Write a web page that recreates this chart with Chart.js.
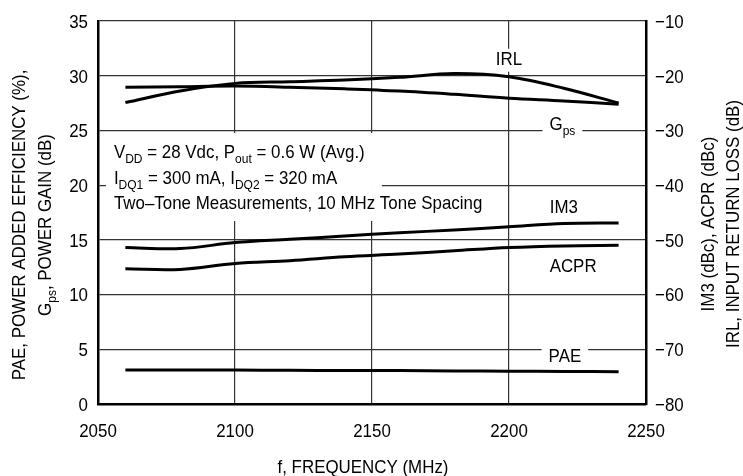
<!DOCTYPE html>
<html>
<head>
<meta charset="utf-8">
<script src="https://cdn.jsdelivr.net/npm/chart.js@4.4.1/dist/chart.umd.min.js"></script>
<style>
  body { margin: 0; background: #fff; }
  #wrap { width: 743px; height: 476px; }
</style>
</head>
<body>
<div id="wrap"><canvas id="c" width="743" height="476"></canvas></div>
<script>
// data (MHz / dB / %)
const freqs = [2060, 2080, 2100, 2120, 2140, 2160, 2180, 2200, 2220, 2240];
const gps   = [28.95, 29.0, 29.05, 28.95, 28.8, 28.6, 28.3, 27.95, 27.7, 27.4];
const pae   = [3.1, 3.1, 3.1, 3.08, 3.05, 3.05, 3.02, 3.0, 2.98, 2.95];
const irl   = [-24.9, -22.8, -21.4, -21.1, -20.8, -20.3, -19.6, -20.2, -22.3, -25.0];
const im3   = [-51.4, -51.6, -50.5, -49.9, -49.3, -48.7, -48.2, -47.6, -47.0, -46.9];
const acpr  = [-55.3, -55.4, -54.3, -53.8, -53.1, -52.6, -52.0, -51.4, -51.1, -51.0];

const xTicks = [2050, 2100, 2150, 2200, 2250];
const leftTicks = [0, 5, 10, 15, 20, 25, 30, 35];
const rightTicks = [-80, -70, -60, -50, -40, -30, -20, -10];

// narrow helvetica look: regular sans squeezed sideways
const FONT = '"Liberation Sans", Arial, sans-serif';
const FS = 19;
const SUB = 13.5;
const SX = 0.89;

function pts(ys) {
    return freqs.map((f, i) => ({ x: f, y: ys[i] }));
}

function rawWidth(ctx, parts) {
    let w = 0;
    parts.forEach(p => {
        ctx.font = (p[1] ? SUB : FS) + 'px ' + FONT;
        w += ctx.measureText(p[0]).width;
    });
    return w;
}

function richWidth(ctx, parts) {
    return rawWidth(ctx, parts) * SX;
}

// parts: [text, isSubscript]
function drawRich(ctx, parts, x, y, align) {
    let w = rawWidth(ctx, parts);
    let cx = 0;
    if (align == 'center') cx = -w / 2;
    if (align == 'right') cx = -w;
    ctx.save();
    ctx.translate(x, y);
    ctx.scale(SX, 1);
    ctx.textAlign = 'left';
    ctx.textBaseline = 'alphabetic';
    ctx.fillStyle = '#000';
    parts.forEach(p => {
        ctx.font = (p[1] ? SUB : FS) + 'px ' + FONT;
        ctx.fillText(p[0], cx, p[1] ? 5 : 0);
        cx += ctx.measureText(p[0]).width;
    });
    ctx.restore();
    return w * SX;
}

const noteLines = [
    [['V', 0], ['DD', 1], [' = 28 Vdc, P', 0], ['out', 1], [' = 0.6 W (Avg.)', 0]],
    [['I', 0], ['DQ1', 1], [' = 300 mA, I', 0], ['DQ2', 1], [' = 320 mA', 0]],
    [['Two\u2013Tone Measurements, 10 MHz Tone Spacing', 0]]
];

// curve labels: [parts, freq, left-axis value of baseline, white box?]
const curveLabels = [
    [[['IRL', 0]], 2200, 31, true],
    [[['G', 0], ['ps', 1]], 2219.5, 25, true],
    [[['IM3', 0]], 2220, 17.45, false],
    [[['ACPR', 0]], 2223.4, 12.08, false],
    [[['PAE', 0]], 2220.4, 3.86, true]
];

function minusText(v) {
    return String(v).replace('-', '\u2212');
}

const notesPlugin = {
    id: 'notes',
    afterDatasetsDraw(chart) {
        const ctx = chart.ctx;
        const xs = chart.scales.x, ys = chart.scales.y;
        ctx.save();
        // white box behind condition text
        ctx.fillStyle = '#fff';
        let x0 = xs.getPixelForValue(2052.9);
        ctx.fillRect(x0, ys.getPixelForValue(24.76), xs.getPixelForValue(2153.6) - x0, ys.getPixelForValue(19.55) - ys.getPixelForValue(24.76));
        ctx.fillRect(x0, ys.getPixelForValue(19.55), xs.getPixelForValue(2195.6) - x0, ys.getPixelForValue(16.72) - ys.getPixelForValue(19.55));
        const tx = xs.getPixelForValue(2055.8);
        [22.48, 20.1, 17.8].forEach((v, i) => {
            drawRich(ctx, noteLines[i], tx, ys.getPixelForValue(v), 'left');
        });

        curveLabels.forEach(l => {
            const cx = xs.getPixelForValue(l[1]);
            const cy = ys.getPixelForValue(l[2]);
            if (l[3]) {
                const w = richWidth(ctx, l[0]);
                ctx.fillStyle = '#fff';
                ctx.fillRect(cx - w / 2 - 7, cy - 16, w + 14, 23);
            }
            drawRich(ctx, l[0], cx, cy, 'center');
        });
        ctx.restore();
    },
    afterDraw(chart) {
        const ctx = chart.ctx;
        const xs = chart.scales.x, ys = chart.scales.y, ys2 = chart.scales.y2;
        const capMid = 0.358 * FS;

        // tick labels
        xs.ticks.forEach(t => {
            drawRich(ctx, [[String(t.value), 0]], xs.getPixelForValue(t.value), xs.top + 32.7, 'center');
        });
        ys.ticks.forEach(t => {
            drawRich(ctx, [[String(t.value), 0]], ys.right - 10, ys.getPixelForValue(t.value) + capMid, 'right');
        });
        ys2.ticks.forEach(t => {
            drawRich(ctx, [[minusText(t.value), 0]], ys2.left + 9, ys2.getPixelForValue(t.value) + capMid, 'left');
        });

        // axis titles
        const midY = 225;
        const rotTitle = (parts, x, y) => {
            ctx.save();
            ctx.translate(x + capMid, y);
            ctx.rotate(-Math.PI / 2);
            drawRich(ctx, parts, 0, 0, 'center');
            ctx.restore();
        };
        rotTitle([['PAE, POWER ADDED EFFICIENCY (%),', 0]], 18, midY);
        rotTitle([['G', 0], ['ps', 1], [', POWER GAIN (dB)', 0]], 44, midY);
        rotTitle([['IM3 (dBc), ACPR (dBc)', 0]], 707, 224);
        rotTitle([['IRL, INPUT RETURN LOSS (dB)', 0]], 732, 224);
        drawRich(ctx, [['f, FREQUENCY (MHz)', 0]], 363, 473, 'center');
    }
};

const lineStyle = {
    borderColor: '#000',
    borderWidth: 3,
    pointRadius: 0,
    fill: false,
    tension: 0.35
};

new Chart('c', {
    type: 'line',
    data: {
        datasets: [
            Object.assign({ label: 'Gps', data: pts(gps), yAxisID: 'y' }, lineStyle),
            Object.assign({ label: 'PAE', data: pts(pae), yAxisID: 'y' }, lineStyle),
            Object.assign({ label: 'IRL', data: pts(irl), yAxisID: 'y2' }, lineStyle),
            Object.assign({ label: 'IM3', data: pts(im3), yAxisID: 'y2' }, lineStyle),
            Object.assign({ label: 'ACPR', data: pts(acpr), yAxisID: 'y2' }, lineStyle)
        ]
    },
    options: {
        responsive: false,
        animation: false,
        layout: { padding: { top: 21, left: 0, right: 0, bottom: 0 } },
        plugins: {
            legend: { display: false },
            tooltip: { enabled: false }
        },
        scales: {
            x: {
                type: 'linear',
                min: 2050,
                max: 2250,
                afterBuildTicks: s => { s.ticks = xTicks.map(v => ({ value: v })); },
                afterFit: s => { s.height = 72; },
                grid: { color: '#333', lineWidth: 1.2, drawTicks: false },
                border: { color: '#000', width: 2.5 },
                ticks: { display: false }
            },
            y: {
                position: 'left',
                min: 0,
                max: 35,
                afterBuildTicks: s => { s.ticks = leftTicks.map(v => ({ value: v })); },
                afterFit: s => { s.width = 98; },
                grid: { color: '#333', lineWidth: 1.2, drawTicks: false },
                border: { color: '#000', width: 2.5 },
                ticks: { display: false }
            },
            y2: {
                position: 'right',
                min: -80,
                max: -10,
                afterBuildTicks: s => { s.ticks = rightTicks.map(v => ({ value: v })); },
                afterFit: s => { s.width = 97; },
                grid: { display: false, drawTicks: false },
                border: { color: '#000', width: 2.5 },
                ticks: { display: false }
            }
        }
    },
    plugins: [notesPlugin]
});
</script>
</body>
</html>
